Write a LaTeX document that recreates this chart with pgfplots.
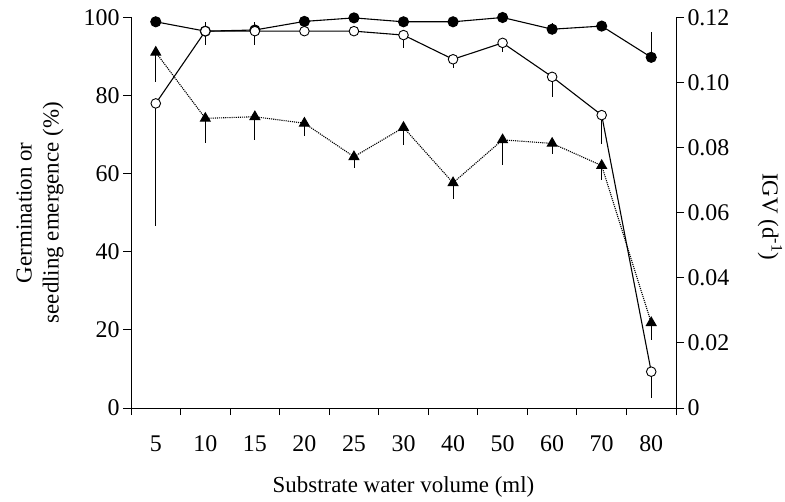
\documentclass[border=0pt]{standalone}
\usepackage{fontspec}
\setmainfont{Liberation Serif}
\usepackage{pgfplots}
\pgfplotsset{compat=1.18}
\begin{document}
\begin{tikzpicture}
\pgfplotsset{
  every axis/.append style={
    font=\fontsize{23}{27}\selectfont,
    tick label style={font=\fontsize{24}{28}\selectfont},
    scale only axis, width=545bp, height=390.5bp,
    xmin=-0.5, xmax=10.5,
    /pgf/number format/assume math mode=true,
    axis line style={line width=0.9pt},
    tick style={line width=0.9pt, black},
    major tick length=8bp, minor tick length=7bp,
    tick align=outside,
  },
}
\begin{axis}[
  axis x line*=bottom, axis y line*=left,
  ymin=0, ymax=100,
  ytick={0,20,40,60,80,100},
  xtick={0,...,10},
  xticklabels={5,10,15,20,25,30,40,50,60,70,80},
  xticklabel style={yshift=-16bp},
  every major x tick/.append style={draw=none},
  minor xtick={-0.5,0.5,1.5,2.5,3.5,4.5,5.5,6.5,7.5,8.5,9.5,10.5},
  xlabel={Substrate water volume (ml)},
  xlabel style={at={(rel axis cs:0.5,0)}, anchor=center, yshift=-79bp},
  ylabel={Germination or\\seedling emergence (\%)},
  ylabel style={align=center, at={(rel axis cs:0,0.5)}, anchor=center, yshift=91bp},
  error bars/error bar style={line width=0.9pt},
]
\coordinate (ll) at (rel axis cs:0,0);
\coordinate (ur) at (rel axis cs:1,1);
% filled circles
\addplot[black, line width=1.1pt, mark=*, mark size=5bp,
  mark options={solid, fill=black},
  error bars/.cd, y dir=both, y explicit, error mark=none]
coordinates {
(0,98.9) += (0,0) -= (0,0)
(1,96.5) += (0,2.4) -= (0,0)
(2,96.8) += (0,2.0) -= (0,0)
(3,99.0) += (0,0) -= (0,0)
(4,99.9) += (0,0) -= (0,0)
(5,98.9) += (0,0) -= (0,0)
(6,98.9) += (0,0) -= (0,0)
(7,100) += (0,0) -= (0,0)
(8,97.0) += (0,1.7) -= (0,0)
(9,97.8) += (0,0) -= (0,0)
(10,89.8) += (0,6.4) -= (0,0)
};
% open circles
\addplot[black, line width=1.1pt, mark=*, mark size=4.8bp,
  mark options={solid, fill=white, line width=0.9pt},
  error bars/.cd, y dir=both, y explicit, error mark=none]
coordinates {
(0,78.0) += (0,0) -= (0,31.3)
(1,96.5) += (0,0) -= (0,3.5)
(2,96.5) += (0,0) -= (0,3.5)
(3,96.5) += (0,0) -= (0,0)
(4,96.5) += (0,0) -= (0,0)
(5,95.5) += (0,0) -= (0,3.4)
(6,89.3) += (0,0) -= (0,2.3)
(7,93.5) += (0,0) -= (0,2.3)
(8,84.8) += (0,0) -= (0,5.2)
(9,75.0) += (0,0) -= (0,7.4)
(10,9.3) += (0,0) -= (0,6.8)
};
\end{axis}
\begin{axis}[
  axis x line=none, axis y line*=right,
  ymin=0, ymax=0.12,
  ytick={0,0.02,0.04,0.06,0.08,0.10,0.12},
  yticklabels={0,0.02,0.04,0.06,0.08,0.10,0.12},
  ylabel={IGV (d\textsuperscript{-1})},
  ylabel style={at={(rel axis cs:1,0.49)}, anchor=center, rotate=180, yshift=94bp},
  error bars/error bar style={line width=0.9pt},
]
\addplot[black, line width=1.1pt, densely dotted, mark=triangle*, mark size=5.5bp,
  mark options={solid, fill=black},
  error bars/.cd, y dir=both, y explicit, error mark=none, error bar style={solid}]
coordinates {
(0,0.1093) += (0,0) -= (0,0.0091)
(1,0.0890) += (0,0) -= (0,0.0076)
(2,0.0895) += (0,0) -= (0,0.0070)
(3,0.0875) += (0,0) -= (0,0.0040)
(4,0.0772) += (0,0) -= (0,0.0036)
(5,0.0862) += (0,0) -= (0,0.0054)
(6,0.0692) += (0,0) -= (0,0.0050)
(7,0.0824) += (0,0) -= (0,0.0077)
(8,0.0813) += (0,0) -= (0,0.0034)
(9,0.0745) += (0,0) -= (0,0.0045)
(10,0.0262) += (0,0) -= (0,0.0053)
};
\end{axis}
\pgfresetboundingbox
\path ([xshift=-131bp,yshift=-94bp]ll) rectangle ([xshift=109bp,yshift=17.5bp]ur);
\end{tikzpicture}
\end{document}
